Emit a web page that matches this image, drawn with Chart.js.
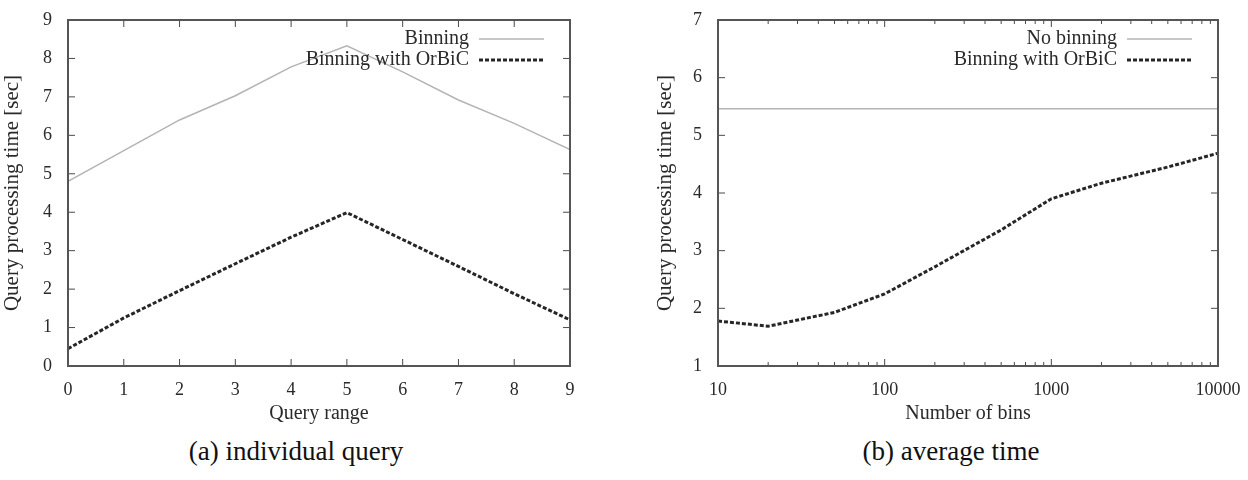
<!DOCTYPE html>
<html>
<head>
<meta charset="utf-8">
<script src="https://cdn.jsdelivr.net/npm/chart.js@4"></script>
<style>
  body { margin: 0; width: 1248px; height: 480px; background: #fff; position: relative; overflow: hidden; }
  .panel { position: absolute; top: 0; width: 624px; height: 430px; }
  .caption { position: absolute; top: 436px; font-family: 'Liberation Serif', serif; font-size: 27px; color: #111; transform: translateX(-50%); white-space: nowrap; }
</style>
</head>
<body>
<div class="panel" style="left:0"><canvas id="left"></canvas></div>
<div class="panel" style="left:624px"><canvas id="right"></canvas></div>
<div class="caption" style="left:296px">(a) individual query</div>
<div class="caption" style="left:951px">(b) average time</div>
<script>
// panel (a)
const queryRange = [0, 1, 2, 3, 4, 5, 6, 7, 8, 9];
const binning = [4.8, 5.6, 6.4, 7.03, 7.78, 8.33, 7.65, 6.92, 6.31, 5.63];
const binningOrbicA = [0.45, 1.25, 1.96, 2.66, 3.35, 3.99, 3.29, 2.59, 1.88, 1.2];

// panel (b)
const numBins = [10, 20, 50, 100, 200, 500, 1000, 2000, 5000, 10000];
const noBinning = [5.46, 5.46, 5.46, 5.46, 5.46, 5.46, 5.46, 5.46, 5.46, 5.46];
const binningOrbicB = [1.78, 1.69, 1.93, 2.25, 2.72, 3.36, 3.9, 4.17, 4.45, 4.69];
const logTicks = [10, 100, 1000, 10000];

const SERIF = "'Liberation Serif', 'Times New Roman', serif";
const GRAY = '#b4b4b4';
const DARK = '#262626';
const TEXT = '#2a2a2a';

// gnuplot-like box with inward ticks on all four sides
const framePlugin = {
    id: 'frame',
    afterDatasetsDraw(chart) {
        const { ctx, chartArea: a, scales: { x, y } } = chart;
        const seg = (x1, y1, x2, y2) => { ctx.beginPath(); ctx.moveTo(x1, y1); ctx.lineTo(x2, y2); ctx.stroke(); };
        ctx.save();
        ctx.strokeStyle = '#4a4a4a';
        ctx.lineWidth = 1;
        x.ticks.forEach(t => {
            const px = x.getPixelForValue(t.value);
            seg(px, a.bottom, px, a.bottom - 7);
            seg(px, a.top, px, a.top + 7);
        });
        if (x.type === 'logarithmic') {
            for (let d = 10; d < 10000; d *= 10) {
                for (let m = 2; m <= 9; m++) {
                    const px = x.getPixelForValue(d * m);
                    seg(px, a.bottom, px, a.bottom - 4);
                    seg(px, a.top, px, a.top + 4);
                }
            }
        }
        y.ticks.forEach(t => {
            const py = y.getPixelForValue(t.value);
            seg(a.left, py, a.left + 7, py);
            seg(a.right, py, a.right - 7, py);
        });
        ctx.lineWidth = 2;
        ctx.strokeStyle = '#555';
        ctx.strokeRect(a.left, a.top, a.right - a.left, a.bottom - a.top);
        ctx.restore();
    },
};

// legend drawn inside the plot, top right, text then line sample
const insideLegend = {
    id: 'insideLegend',
    afterDraw(chart) {
        const { ctx, chartArea: a } = chart;
        ctx.save();
        ctx.font = '20px ' + SERIF;
        ctx.fillStyle = TEXT;
        ctx.textAlign = 'right';
        ctx.textBaseline = 'middle';
        chart.data.datasets.forEach((ds, i) => {
            const yy = a.top + 19 + i * 21;
            const x2 = a.right - 26;
            const x1 = x2 - 65;
            ctx.fillText(ds.label, x1 - 10, yy);
            ctx.strokeStyle = ds.borderColor;
            ctx.lineWidth = ds.borderWidth;
            ctx.setLineDash(ds.borderDash || []);
            ctx.beginPath();
            ctx.moveTo(x1, yy);
            ctx.lineTo(x2, yy);
            ctx.stroke();
        });
        ctx.restore();
    },
};

function makeChart(id, cfg) {
    return new Chart(document.getElementById(id), {
        type: 'line',
        data: {
            labels: cfg.labels,
            datasets: [
                { label: cfg.names[0], data: cfg.s1, borderColor: GRAY, borderWidth: 1.5, pointRadius: 0, tension: 0 },
                { label: cfg.names[1], data: cfg.s2, borderColor: DARK, borderWidth: 3, borderDash: [4, 2], pointRadius: 0, tension: 0 },
            ],
        },
        plugins: [framePlugin, insideLegend],
        options: {
            responsive: true,
            maintainAspectRatio: false,
            animation: false,
            layout: { padding: { top: 20, right: cfg.padRight, left: cfg.padLeft, bottom: 0 } },
            plugins: { legend: { display: false }, tooltip: { enabled: false } },
            scales: {
                x: cfg.x,
                y: {
                    type: 'linear',
                    min: cfg.yMin,
                    max: cfg.yMax,
                    grid: { display: false },
                    border: { display: false },
                    ticks: { stepSize: 1, color: TEXT, padding: 8, font: { family: SERIF, size: 18 } },
                    title: { display: true, text: 'Query processing time [sec]', color: TEXT, padding: 0, font: { family: SERIF, size: 21 } },
                    afterFit: s => { s.width = cfg.yWidth; },
                },
            },
        },
    });
}

makeChart('left', {
    labels: queryRange,
    names: ['Binning', 'Binning with OrBiC'],
    s1: binning,
    s2: binningOrbicA,
    yMin: 0, yMax: 9, yWidth: 68, padLeft: 0, padRight: 54,
    x: {
        type: 'linear',
        min: 0,
        max: 9,
        grid: { display: false },
        border: { display: false },
        ticks: { stepSize: 1, color: TEXT, padding: 5, font: { family: SERIF, size: 18 } },
        title: { display: true, text: 'Query range', color: TEXT, padding: { top: 3 }, font: { family: SERIF, size: 20 } },
        afterFit: s => { s.height = 64; },
    },
});

makeChart('right', {
    labels: numBins,
    names: ['No binning', 'Binning with OrBiC'],
    s1: noBinning,
    s2: binningOrbicB,
    yMin: 1, yMax: 7, yWidth: 65, padLeft: 29, padRight: 30,
    x: {
        type: 'logarithmic',
        min: 10,
        max: 10000,
        grid: { display: false },
        border: { display: false },
        afterBuildTicks: s => { s.ticks = logTicks.map(v => ({ value: v })); },
        ticks: { color: TEXT, padding: 5, font: { family: SERIF, size: 18 }, callback: v => String(v) },
        title: { display: true, text: 'Number of bins', color: TEXT, padding: { top: 3 }, font: { family: SERIF, size: 20 } },
        afterFit: s => { s.height = 64; },
    },
});
</script>
</body>
</html>
